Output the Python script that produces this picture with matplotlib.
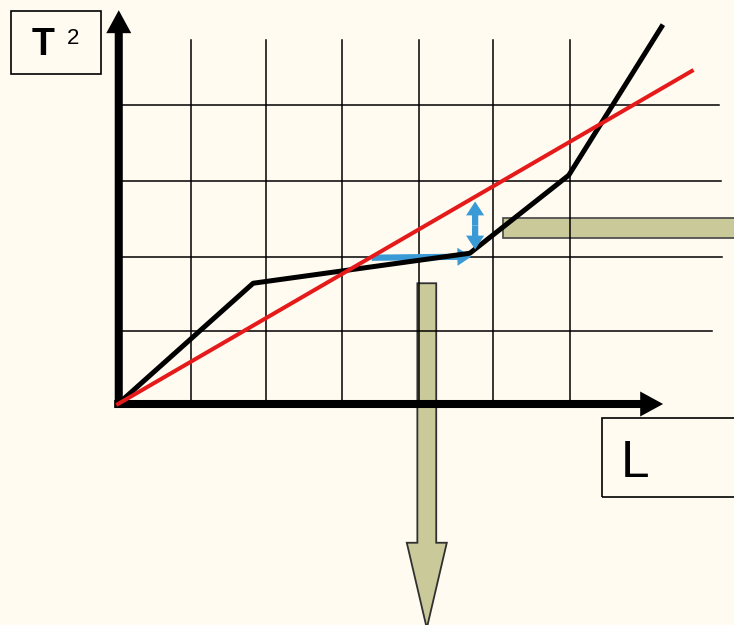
import matplotlib.pyplot as plt
from matplotlib.patches import FancyArrowPatch, Rectangle, FancyArrow

# grid lines (one cell is roughly one unit)
grid_x = [0.97, 1.96, 2.97, 3.99, 4.97, 5.99]
grid_y = [0.97, 1.96, 2.97, 3.99]
grid_y_end = [7.87, 8.0, 7.99, 7.96]  # right ends of horizontal grid lines
grid_x_top = 4.85

# measured curve (black) and fitted straight line (red)
black_L = [0, 1.79, 4.66, 5.97, 7.2]
black_T2 = [0, 1.61, 2.01, 3.05, 5.03]
red_L = [0, 7.6]
red_T2 = [0, 4.44]

bg = '#FFFBF0'
khaki = '#C9C99A'
blue = '#3A9AD6'

fig = plt.figure(figsize=(7.34, 6.25), dpi=100)
fig.patch.set_facecolor(bg)
ax = fig.add_axes([0, 0, 1, 1])
ax.set_facecolor(bg)
# origin sits at pixel (118, 404); a cell is ~75.5 x 75 px
ax.set_xlim(-118 / 75.5, (734 - 118) / 75.5)
ax.set_ylim((404 - 625) / 75, 404 / 75)
ax.axis('off')

# khaki arrows (under everything)
ax.add_patch(Rectangle((5.10, 2.21), 4.0, 0.27, facecolor=khaki,
                       edgecolor='#505050', lw=1.3, zorder=1))
ax.add_patch(FancyArrow(4.09, 1.61, 0, -4.6, width=0.25, head_width=0.53,
                        head_length=1.14, length_includes_head=True,
                        facecolor=khaki, edgecolor='#303030', lw=1.3, zorder=1))

# grid
for gx in grid_x:
    ax.plot([gx, gx], [0, grid_x_top], color='black', lw=1.1, zorder=2)
for gy, xe in zip(grid_y, grid_y_end):
    ax.plot([0, xe], [gy, gy], color='black', lw=1.1, zorder=2)

# axes with arrows
axis_style = 'simple,head_length=16.5,head_width=18,tail_width=5.8'
ax.add_patch(FancyArrowPatch((0.01, -0.05), (0.01, 5.25), arrowstyle=axis_style,
                             mutation_scale=1, shrinkA=0, shrinkB=0,
                             color='black', lw=0, zorder=3))
ax.add_patch(FancyArrowPatch((-0.05, 0.0), (7.22, 0.0), arrowstyle=axis_style,
                             mutation_scale=1, shrinkA=0, shrinkB=0,
                             color='black', lw=0, zorder=3))

# blue arrows
blue_style = 'simple,head_length=10,head_width=13,tail_width=4.5'
ax.add_patch(FancyArrowPatch((3.36, 1.95), (4.68, 1.965), arrowstyle=blue_style,
                             mutation_scale=1, shrinkA=0, shrinkB=0,
                             color=blue, lw=0, zorder=4))
for y_end in (2.70, 2.06):
    ax.add_patch(FancyArrowPatch((4.73, 2.38), (4.73, y_end), arrowstyle=blue_style,
                                 mutation_scale=1, shrinkA=0, shrinkB=0,
                                 color=blue, lw=0, zorder=7))

ax.plot(black_L, black_T2, color='black', lw=3.6, solid_joinstyle='round', zorder=5)
ax.plot(red_L, red_T2, color='#E51A1A', lw=2.9, zorder=6)

# label boxes
ax.add_patch(Rectangle((-1.417, 4.40), 1.192, 0.84, facecolor='none',
                       edgecolor='black', lw=1.2, zorder=3))
ax.text(-1.15, 4.653, 'T', fontsize=27, fontweight='bold',
        family='Liberation Sans', ha='left', va='baseline')
ax.text(-0.68, 4.80, '2', fontsize=16, family='Liberation Sans',
        ha='left', va='baseline')

ax.add_patch(Rectangle((6.41, -1.24), 3.0, 1.053, facecolor='none',
                       edgecolor='black', lw=1.2, zorder=3))
ax.text(6.66, -0.973, 'L', fontsize=37, family='Liberation Sans',
        ha='left', va='baseline')

fig.savefig('out.png', dpi=100, facecolor=bg)
